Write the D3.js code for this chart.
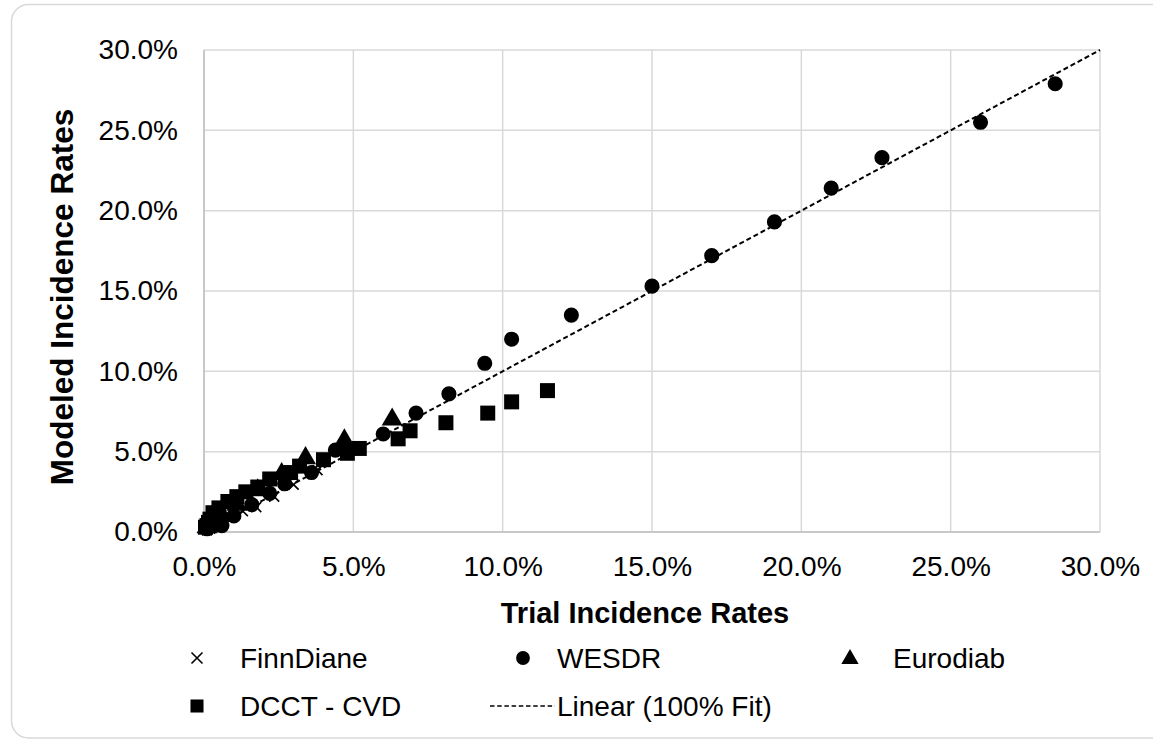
<!DOCTYPE html>
<html><head><meta charset="utf-8">
<script src="https://cdn.jsdelivr.net/npm/d3@7"></script>
<style>body{margin:0;background:#fff;}svg{display:block;font-family:"Liberation Sans",Arial,sans-serif;}</style>
</head><body>
<svg id="c" width="1153" height="743"></svg>
<script>
// Data (values in percent)
const finnDiane = [[0.1,0.1],[0.2,0.2],[0.3,0.3],[0.6,0.5],[0.9,0.9],[1.3,1.3],[1.75,1.55],[2.35,2.2],[3.0,2.95],[3.8,3.85]];
const wesdr = [[0.1,0.2],[0.3,0.5],[0.4,0.7],[0.6,0.4],[1.0,1.0],[1.6,1.7],[2.2,2.4],[2.7,3.0],[3.6,3.7],[4.4,5.1],[6.0,6.1],[7.1,7.4],[8.2,8.6],[9.4,10.5],[10.3,12.0],[12.3,13.5],[15.0,15.3],[17.0,17.2],[19.1,19.3],[21.0,21.4],[22.7,23.3],[26.0,25.5],[28.5,27.9]];
const eurodiab = [[0.1,0.3],[0.2,0.5],[0.6,1.0],[1.1,1.7],[1.8,2.6],[2.6,3.6],[3.4,4.6],[4.7,5.7],[6.3,7.0]];
const dcctCvd = [[0.05,0.3],[0.1,0.4],[0.15,0.6],[0.2,0.8],[0.3,1.2],[0.5,1.5],[0.8,1.9],[1.1,2.2],[1.4,2.5],[1.8,2.8],[2.2,3.3],[2.9,3.7],[3.2,4.1],[4.0,4.5],[4.8,4.9],[5.2,5.2],[6.5,5.8],[6.9,6.3],[8.1,6.8],[9.5,7.4],[10.3,8.1],[11.5,8.8]];
const fitLine = [[0,0],[30,30]];
const ticks = [0,5,10,15,20,25,30];
const legendItems = ["FinnDiane","WESDR","Eurodiab","DCCT - CVD","Linear (100% Fit)"];
const xTitle = "Trial Incidence Rates";
const yTitle = "Modeled Incidence Rates";

const svg = d3.select("#c");
const L=204, R=1100, T=50, B=532;
const x = d3.scaleLinear().domain([0,30]).range([L,R]);
const y = d3.scaleLinear().domain([0,30]).range([B,T]);
const fmt = d => d.toFixed(1)+"%";

// outer border
svg.append("rect").attr("x",11.5).attr("y",4.5).attr("width",1165).attr("height",733.5)
  .attr("rx",17).attr("fill","#fff").attr("stroke","#d9d9d9").attr("stroke-width",1.5);

// gridlines
const g = svg.append("g");
g.selectAll(".gx").data(ticks).join("line")
  .attr("x1",d=>x(d)).attr("x2",d=>x(d)).attr("y1",T).attr("y2",B)
  .attr("stroke","#d9d9d9").attr("stroke-width",1.5);
g.selectAll(".gy").data(ticks).join("line")
  .attr("y1",d=>y(d)).attr("y2",d=>y(d)).attr("x1",L).attr("x2",R)
  .attr("stroke","#d9d9d9").attr("stroke-width",1.5);
// axis lines
g.append("line").attr("x1",L).attr("x2",R).attr("y1",B).attr("y2",B).attr("stroke","#bfbfbf").attr("stroke-width",1.5);
g.append("line").attr("x1",L).attr("x2",L).attr("y1",T).attr("y2",B).attr("stroke","#bfbfbf").attr("stroke-width",1.5);

// axes (labels only)
const xa = svg.append("g").attr("transform",`translate(0,${B})`)
  .call(d3.axisBottom(x).tickValues(ticks).tickFormat(fmt).tickSize(0).tickPadding(24));
const ya = svg.append("g").attr("transform",`translate(${L},0)`)
  .call(d3.axisLeft(y).tickValues(ticks).tickFormat(fmt).tickSize(0).tickPadding(26));
[xa,ya].forEach(a=>{a.select(".domain").remove();
  a.selectAll("text").attr("font-size",28).attr("fill","#000").attr("font-family","Liberation Sans, Arial, sans-serif");});

// titles
svg.append("text").attr("x",645).attr("y",623).attr("text-anchor","middle")
  .attr("font-size",29).attr("font-weight","bold").text(xTitle);
svg.append("text").attr("transform","translate(73,297) rotate(-90)").attr("text-anchor","middle")
  .attr("font-size",31.5).attr("font-weight","bold").text(yTitle);

// fit line
svg.append("path").datum(fitLine)
  .attr("d",d3.line().x(d=>x(d[0])).y(d=>y(d[1])))
  .attr("stroke","#000").attr("stroke-width",2).attr("stroke-dasharray","5,3").attr("fill","none");

// markers
const sym = (type,size)=>d3.symbol().type(type).size(size)();
const pts = svg.append("g");
function drawSeries(data,type,size){
  pts.append("g").selectAll("path").data(data).join("path")
    .attr("transform",d=>`translate(${x(d[0])},${y(d[1])})`)
    .attr("d",sym(type,size)).attr("fill","#000");
}
drawSeries(dcctCvd,d3.symbolSquare,225);
drawSeries(eurodiab,d3.symbolTriangle,190);
drawSeries(wesdr,d3.symbolCircle,180);
pts.append("g").selectAll("path").data(finnDiane).join("path")
  .attr("transform",d=>`translate(${x(d[0])},${y(d[1])})`)
  .attr("d","M-5,-5L5,5M-5,5L5,-5").attr("stroke","#000").attr("stroke-width",1.6).attr("fill","none");

// legend
const lg = svg.append("g").attr("font-size",28);
const cols=[197,523,850], textX=[240,557,893], rows=[658,706];
const pos=[[0,0],[1,0],[2,0],[0,1],[1,1]];
legendItems.forEach((name,i)=>{
  const c=pos[i][0], cx=cols[c], cy=rows[pos[i][1]];
  if(i===0) lg.append("path").attr("transform",`translate(${cx},${cy})`).attr("d","M-5.5,-5.5L5.5,5.5M-5.5,5.5L5.5,-5.5").attr("stroke","#000").attr("stroke-width",1.6);
  if(i===1) lg.append("path").attr("transform",`translate(${cx},${cy})`).attr("d",sym(d3.symbolCircle,150));
  if(i===2) lg.append("path").attr("transform",`translate(${cx},${cy+1})`).attr("d",sym(d3.symbolTriangle,130));
  if(i===3) lg.append("path").attr("transform",`translate(${cx},${cy})`).attr("d",sym(d3.symbolSquare,170));
  if(i===4) lg.append("line").attr("x1",cx-33).attr("x2",cx+32).attr("y1",cy).attr("y2",cy)
    .attr("stroke","#000").attr("stroke-width",1.5).attr("stroke-dasharray","4.5,2.7");
  lg.append("text").attr("x",textX[c]).attr("y",cy+10).attr("fill","#000").text(name);
});
</script>
</body></html>
